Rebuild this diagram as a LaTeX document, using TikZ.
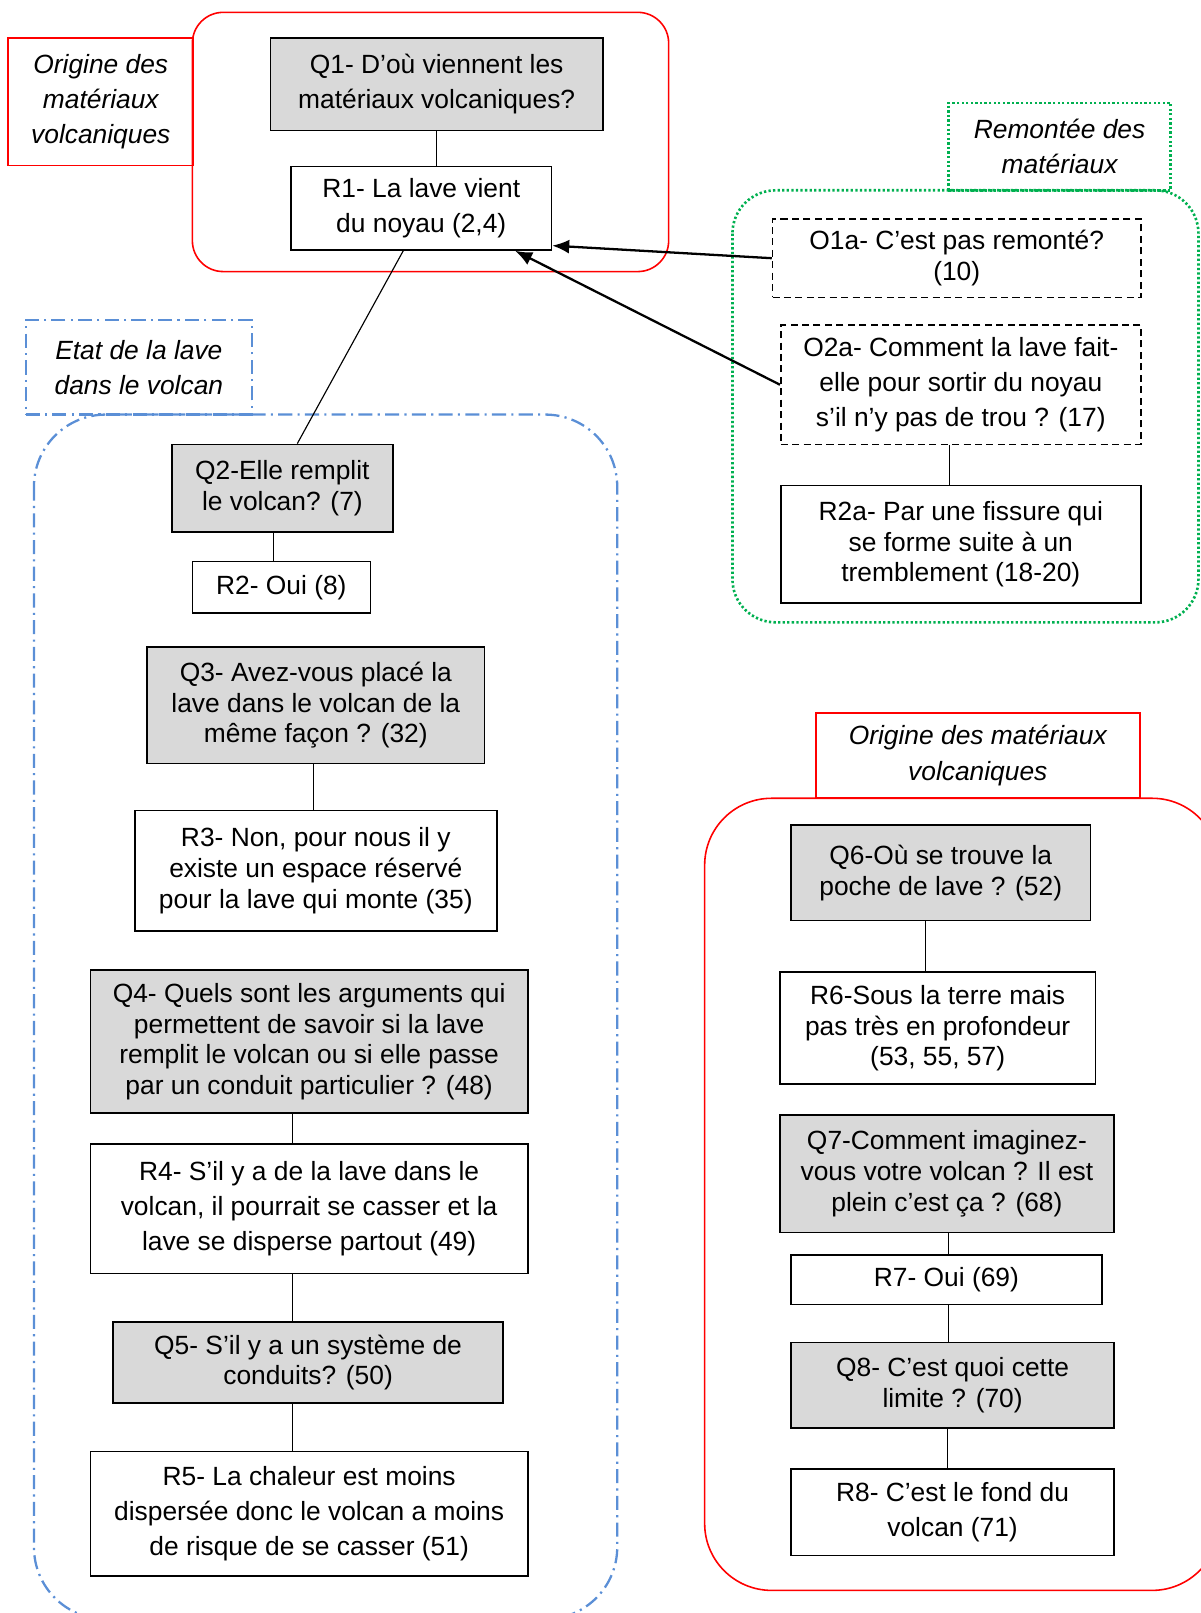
\documentclass[tikz,border=0pt]{standalone}
\usepackage{fontspec}
\setmainfont{Liberation Sans}
\usepackage{xcolor}
\usetikzlibrary{arrows.meta,positioning,calc}
\definecolor{qgray}{HTML}{D9D9D9}
\definecolor{grpred}{HTML}{FF0000}
\definecolor{grpgreen}{HTML}{00B050}
\definecolor{grpblue}{HTML}{5B8FD6}
\newdimen\px
\px=0.020566cm
\tikzset{
  qrarr/.style={-{Latex[length=3.4mm,width=2.8mm]}, line width=1.3pt},
  qrnode/.style={draw, line width=0.9pt, align=center, inner sep=0pt},
  qrlink/.style={line width=0.65pt},
}

\begin{document}
\begin{tikzpicture}[
  x=0.020566cm, y=-0.020566cm,
  font=\fontsize{15}{17.5}\selectfont,
  qbox/.style={qrnode, fill=qgray},
  rbox/.style={qrnode, fill=white},
  obox/.style={qrnode, fill=white, dash pattern=on 4pt off 2.5pt},
  loose/.style={font=\fontsize{15}{20}\selectfont},
  sz/.style 2 args={minimum width=#1\px, minimum height=#2\px},
  tag/.style={align=center, inner sep=0pt, font=\fontsize{15}{20}\selectfont\itshape},
  redgrp/.style={draw=grpred, line width=0.9pt},
  greengrp/.style={draw=grpgreen, line width=1.5pt, dash pattern=on 1.3pt off 1.3pt},
  bluegrp/.style={draw=grpblue, line width=1.3pt, dash pattern=on 8pt off 3pt on 1.2pt off 3pt},
]
  \useasboundingbox (0,0) rectangle (1167,1568);
  \draw[redgrp, rounded corners=30\px] (187,12) rectangle (650,264);
  \draw[greengrp, rounded corners=42\px] (712,185) rectangle (1165,605);
  \draw[bluegrp, rounded corners=70\px] (33,403) rectangle (600,1574);
  \draw[redgrp, rounded corners=65\px] (685,776) rectangle (1185,1546);

  \node[tag, redgrp, sz={180}{124}] (To1) at (98,99) {Origine des\\matériaux\\volcaniques};
  \node[tag, greengrp, sz={216}{85}] (Trm) at (1030,142.5) {Remontée des\\matériaux};
  \node[tag, bluegrp, sz={220}{92}] (Tet) at (135,357) {Etat de la lave\\dans le volcan};
  \node[tag, redgrp, sz={315}{83}] (To2) at (950.5,734.5) {Origine des matériaux\\volcaniques};

  \node[qbox, loose, sz={323}{90}] (Q1) at (424.5,82) {Q1- D’où viennent les\\matériaux volcaniques?};
  \node[rbox, loose, sz={253}{81}] (R1) at (409.5,202.5) {R1- La lave vient\\du noyau (2,4)};

  \node[obox, sz={358}{76}] (O1a) at (930,251) {O1a- C’est pas remonté?\\(10)};
  \node[obox, loose, sz={350}{116}] (O2a) at (934,374) {O2a- Comment la lave fait-\\elle pour sortir du noyau\\s’il n’y pas de trou ? (17)};
  \node[rbox, sz={350}{114}] (R2a) at (934,529) {R2a- Par une fissure qui\\se forme suite à un\\tremblement (18-20)};

  \node[qbox, sz={215}{85}] (Q2) at (274.5,474.5) {Q2-Elle remplit\\le volcan? (7)};
  \node[rbox, sz={173}{50}] (R2) at (273.5,571) {R2- Oui (8)};
  \node[qbox, sz={328}{113}] (Q3) at (307,685.5) {Q3- Avez-vous placé la\\lave dans le volcan de la\\même façon ? (32)};
  \node[rbox, sz={352}{117}] (R3) at (307,846.5) {R3- Non, pour nous il y\\existe un espace réservé\\pour la lave qui monte (35)};
  \node[qbox, sz={425}{139}] (Q4) at (300.5,1012.5) {Q4- Quels sont les arguments qui\\permettent de savoir si la lave\\remplit le volcan ou si elle passe\\par un conduit particulier ? (48)};
  \node[rbox, loose, sz={425}{126}] (R4) at (300.5,1175) {R4- S’il y a de la lave dans le\\volcan, il pourrait se casser et la\\lave se disperse partout (49)};
  \node[qbox, sz={379}{79}] (Q5) at (299.5,1324.5) {Q5- S’il y a un système de\\conduits? (50)};
  \node[rbox, loose, sz={425}{121}] (R5) at (300.5,1471.5) {R5- La chaleur est moins\\dispersée donc le volcan a moins\\de risque de se casser (51)};

  \node[qbox, sz={291}{93}] (Q6) at (914.5,848.5) {Q6-Où se trouve la\\poche de lave ? (52)};
  \node[rbox, sz={307}{109}] (R6) at (911.5,999.5) {R6-Sous la terre mais\\pas très en profondeur\\(53, 55, 57)};
  \node[qbox, sz={325}{114}] (Q7) at (920.5,1141) {Q7-Comment imaginez-\\vous votre volcan ? Il est\\plein c’est ça ? (68)};
  \node[rbox, sz={302}{48}] (R7) at (920,1244) {R7- Oui (69)};
  \node[qbox, sz={314}{83}] (Q8) at (926,1346.5) {Q8- C’est quoi cette\\limite ? (70)};
  \node[rbox, loose, sz={314}{84}] (R8) at (926,1470) {R8- C’est le fond du\\volcan (71)};

  \foreach \a/\b/\d in {Q1/R1/0, O2a/R2a/-11, Q2/R2/-8.5, Q3/R3/-2, Q4/R4/-16.5, R4/Q5/-16.5,
      Q5/R5/-15.5, Q6/R6/-14.5, Q7/R7/1.5, R7/Q8/2, Q8/R8/-5}
    \draw[qrlink] ([xshift=\d\px]\a.south) -- ([xshift=\d\px]\a.south |- \b.north);
  \draw[qrlink] ([xshift=-17.5\px]R1.south) -- ([xshift=14.5\px]Q2.north);
  \draw[qrarr] (O1a.west) -- ([yshift=5\px]R1.south east);
  \draw[qrarr] (O2a.west) -- ([xshift=-36\px]R1.south east);
\end{tikzpicture}
\end{document}
